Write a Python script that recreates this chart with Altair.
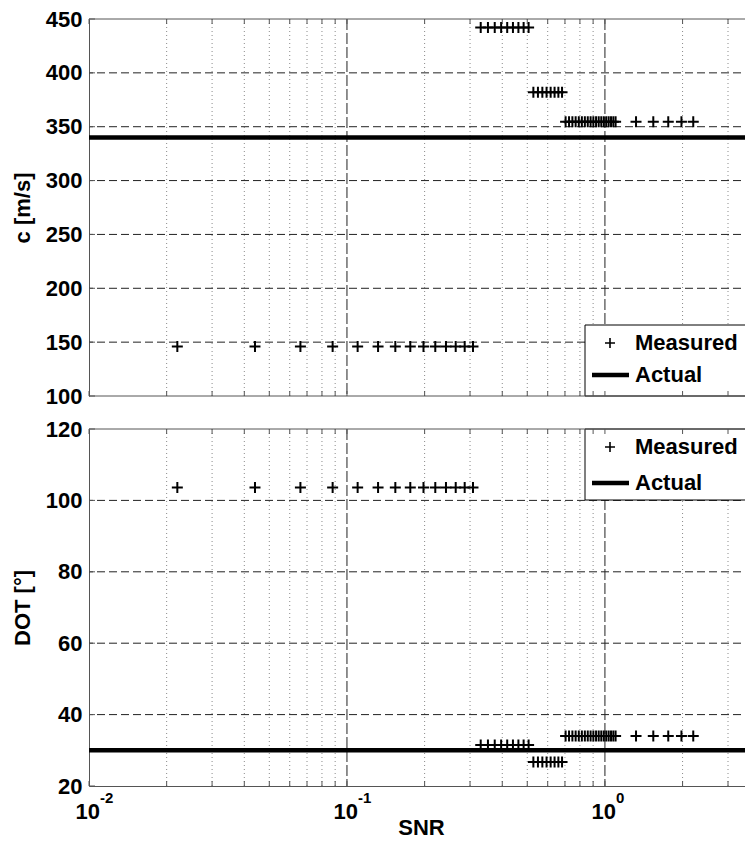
import altair as alt
import pandas as pd

# ---------------- data ----------------
snr = [0.022, 0.044, 0.066, 0.088, 0.110, 0.132, 0.154, 0.176, 0.198, 0.220,
       0.242, 0.264, 0.286, 0.308, 0.330, 0.352, 0.374, 0.396, 0.418, 0.440,
       0.462, 0.484, 0.506, 0.528, 0.550, 0.572, 0.594, 0.616, 0.638, 0.660,
       0.682, 0.704, 0.726, 0.748, 0.770, 0.792, 0.814, 0.836, 0.858, 0.880,
       0.902, 0.924, 0.946, 0.968, 0.990, 1.012, 1.034, 1.056, 1.078, 1.100,
       1.32, 1.54, 1.76, 1.98, 2.20]

c_measured = [146, 146, 146, 146, 146, 146, 146, 146, 146, 146,
              146, 146, 146, 146, 442, 442, 442, 442, 442, 442,
              442, 442, 442, 382, 382, 382, 382, 382, 382, 382,
              382, 354.5, 354.5, 354.5, 354.5, 354.5, 354.5, 354.5, 354.5, 354.5,
              354.5, 354.5, 354.5, 354.5, 354.5, 354.5, 354.5, 354.5, 354.5, 354.5,
              354.5, 354.5, 354.5, 354.5, 354.5]

dot_measured = [103.6, 103.6, 103.6, 103.6, 103.6, 103.6, 103.6, 103.6, 103.6, 103.6,
                103.6, 103.6, 103.6, 103.6, 31.5, 31.5, 31.5, 31.5, 31.5, 31.5,
                31.5, 31.5, 31.5, 26.7, 26.7, 26.7, 26.7, 26.7, 26.7, 26.7,
                26.7, 34.0, 34.0, 34.0, 34.0, 34.0, 34.0, 34.0, 34.0, 34.0,
                34.0, 34.0, 34.0, 34.0, 34.0, 34.0, 34.0, 34.0, 34.0, 34.0,
                34.0, 34.0, 34.0, 34.0, 34.0]

c_actual = [340]
dot_actual = [30]

c_ticks = [100, 150, 200, 250, 300, 350, 400, 450]
dot_ticks = [20, 40, 60, 80, 100, 120]

x_major = [0.01, 0.1, 1.0]
x_exponents = ["-2", "-1", "0"]
x_minor = [0.02, 0.03, 0.04, 0.05, 0.06, 0.07, 0.08, 0.09,
           0.2, 0.3, 0.4, 0.5, 0.6, 0.7, 0.8, 0.9, 2, 3]

legend_labels = ["Measured", "Actual"]
x_title = "SNR"
c_title = "c [m/s]"
dot_title = "DOT [°]"

# ---------------- style ----------------
FONT = "Liberation Sans"
FS = 22
W, H1, H2 = 664, 377, 357
XDOM = [0.01, 3.75]
FRAME = "#555555"
PLUS = "M-1,0L1,0M0,-1L0,1"
BOX_X = 496
BOX_H = 71

xscale = alt.Scale(type="log", domain=XDOM, nice=False)


def X(show_axis):
    if show_axis:
        ax = alt.Axis(values=x_major, labels=False, ticks=False, grid=False,
                      domain=True, domainColor=FRAME, domainWidth=1,
                      title=x_title, titleFont=FONT, titleFontSize=FS,
                      titleFontWeight="bold", titleColor="black", titlePadding=31)
    else:
        ax = None
    return alt.X("x:Q", scale=xscale, axis=ax)


def Y(ticks, title):
    return alt.Y("y:Q",
                 scale=alt.Scale(domain=[ticks[0], ticks[-1]], nice=False, zero=False),
                 axis=alt.Axis(values=ticks, grid=False, ticks=False, domain=True,
                               domainColor=FRAME, domainWidth=1,
                               labelFont=FONT, labelFontSize=FS, labelFontWeight="bold",
                               labelColor="black", labelPadding=7,
                               title=title, titleFont=FONT, titleFontSize=FS,
                               titleFontWeight="bold", titleColor="black", titlePadding=11))


def one():
    return pd.DataFrame({"k": [0]})


def hline(x1, x2, yv, color="black", width=1):
    return alt.Chart(one()).mark_rule(color=color, strokeWidth=width).encode(
        x=alt.value(x1), x2=alt.value(x2), y=alt.value(yv))


def panel(meas, actual, ticks, title, H, show_x, box_top, plus_y, line_y):
    x = X(show_x)
    y = Y(ticks, title)
    layers = []
    # minor vertical grid (dotted)
    layers.append(alt.Chart(pd.DataFrame({"x": x_minor})).mark_rule(
        color="#8a8a8a", strokeDash=[1, 3], strokeWidth=1).encode(x=x))
    # major vertical grid
    layers.append(alt.Chart(pd.DataFrame({"x": x_major[1:]})).mark_rule(
        color="#222222", strokeDash=[11, 3], strokeWidth=1).encode(x=x))
    # horizontal grid
    layers.append(alt.Chart(pd.DataFrame({"y": ticks[1:-1]})).mark_rule(
        color="#222222", strokeDash=[8, 4], strokeWidth=1).encode(y=y))
    # actual
    layers.append(alt.Chart(pd.DataFrame({"y": actual})).mark_rule(
        color="black", strokeWidth=4.5).encode(y=y))
    # measured
    layers.append(alt.Chart(pd.DataFrame({"x": snr, "y": meas})).mark_point(
        shape=PLUS, size=121, filled=False, color="black", strokeWidth=2,
        opacity=1).encode(x=x, y=y))
    # legend box (white, open on the cropped right side)
    layers.append(alt.Chart(one()).mark_rect(fill="white", strokeWidth=0).encode(
        x=alt.value(BOX_X), x2=alt.value(W),
        y=alt.value(box_top), y2=alt.value(box_top + BOX_H)))
    layers.append(hline(BOX_X, W, box_top))
    layers.append(hline(BOX_X, W, box_top + BOX_H))
    layers.append(alt.Chart(one()).mark_rule(color="black", strokeWidth=1).encode(
        x=alt.value(BOX_X), y=alt.value(box_top), y2=alt.value(box_top + BOX_H)))
    layers.append(alt.Chart(one()).mark_point(
        shape=PLUS, size=100, filled=False, color="black", strokeWidth=1.6,
        opacity=1).encode(x=alt.value(521), y=alt.value(plus_y)))
    layers.append(hline(503, 540, line_y, width=4.5))
    for lab, ly in zip(legend_labels, [plus_y, line_y]):
        layers.append(alt.Chart(one()).mark_text(
            align="left", baseline="middle", font=FONT, fontSize=FS,
            fontWeight="bold", color="black").encode(
            x=alt.value(546), y=alt.value(ly), text=alt.value(lab)))
    # frame: top and (for upper panel) bottom
    layers.append(hline(0, W, 0, color=FRAME))
    if not show_x:
        layers.append(hline(0, W, H, color=FRAME))
    # inward ticks
    layers.append(alt.Chart(pd.DataFrame({"y": ticks})).mark_rule(
        color=FRAME, strokeWidth=1).encode(y=y, x=alt.value(0), x2=alt.value(6)))
    xt = pd.DataFrame({"x": x_major + x_minor})
    layers.append(alt.Chart(xt).mark_rule(color=FRAME, strokeWidth=1).encode(
        x=x, y=alt.value(H - 5), y2=alt.value(H)))
    layers.append(alt.Chart(xt).mark_rule(color=FRAME, strokeWidth=1).encode(
        x=x, y=alt.value(0), y2=alt.value(5)))
    if show_x:
        lab = pd.DataFrame({"x": x_major, "e": x_exponents})
        layers.append(alt.Chart(lab).mark_text(
            align="right", baseline="middle", dx=11, font=FONT, fontSize=FS,
            fontWeight="bold", color="black").encode(
            x=x, y=alt.value(H + 26), text=alt.value("10")))
        layers.append(alt.Chart(lab).mark_text(
            align="left", baseline="middle", dx=11, font=FONT, fontSize=15,
            fontWeight="bold", color="black").encode(
            x=x, y=alt.value(H + 12), text="e:N"))
    return alt.layer(*layers).properties(width=W, height=H)


top = panel(c_measured, c_actual, c_ticks, c_title, H1, False,
            box_top=H1 - BOX_H, plus_y=324, line_y=356)
bottom = panel(dot_measured, dot_actual, dot_ticks, dot_title, H2, True,
               box_top=0, plus_y=18, line_y=54)

chart = alt.vconcat(top, bottom, spacing=11).properties(
    padding={"left": 3, "top": 0, "right": -11, "bottom": 0},
    background="white",
).configure_view(stroke=None)

chart.save("out.html", embed_options={"renderer": "svg", "actions": False})
